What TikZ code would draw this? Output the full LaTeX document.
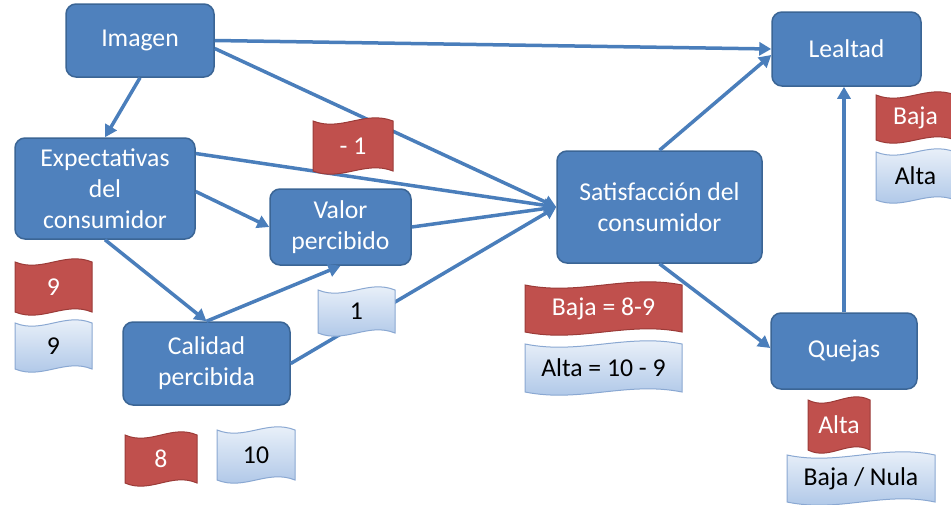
\documentclass[tikz,border=0pt]{standalone}
\usepackage{fontspec}
\setmainfont{Carlito}
\usetikzlibrary{arrows.meta}
\definecolor{boxblue}{HTML}{4F81BD}
\definecolor{boxedge}{HTML}{3B6595}
\definecolor{arrowblue}{HTML}{4A7EBB}
\definecolor{flagred}{HTML}{C0504D}
\definecolor{flagrededge}{HTML}{9B3B38}
\definecolor{flagbluetop}{HTML}{F0F5FB}
\definecolor{flagbluebot}{HTML}{A9C3E6}
\definecolor{flagblueedge}{HTML}{8AA8D2}
\tikzset{
  box/.style={draw=boxedge, line width=1.5pt, fill=boxblue, rounded corners=10pt,
    text=white, align=center, font=\fontsize{25.7}{31}\selectfont, inner sep=0pt},
  conn/.style={draw=arrowblue, line width=3.5pt, -{Triangle[length=12pt,width=13pt]}},
  flagtxt/.style={font=\fontsize{25.7}{31}\selectfont, inner sep=0pt},
  redflag/.style={draw=flagrededge, line width=1pt, fill=flagred},
  blueflag/.style={draw=flagblueedge, line width=1pt, top color=flagbluetop, bottom color=flagbluebot},
}
% name, cx, cy, w, h, style, text colour, text
\newcommand\wflag[8]{%
  \path[#6] ({#2-#4/2},{#3-#5/2})
    .. controls ({#2-0.15*#4},{#3-#5/2+11}) and ({#2+0.15*#4},{#3-#5/2-11}) .. ({#2+#4/2},{#3-#5/2})
    -- ({#2+#4/2},{#3+#5/2})
    .. controls ({#2+0.15*#4},{#3+#5/2-11}) and ({#2-0.15*#4},{#3+#5/2+11}) .. ({#2-#4/2},{#3+#5/2})
    -- cycle;
  \node[flagtxt, text=#7] (#1) at (#2,#3) {#8};
}
\begin{document}
\begin{tikzpicture}[x=1pt, y=-1pt]
\useasboundingbox (0,0) rectangle (951,504);
\clip (0,0) rectangle (951,504);
% boxes
\node[box, minimum width=148pt, minimum height=73pt] (img) at (140,40.5) {Imagen};
\node[box, minimum width=180pt, minimum height=101pt] (exp) at (105,188.5) {Expectativas\\del\\consumidor};
\node[box, minimum width=141pt, minimum height=76pt] (val) at (340.5,227) {Valor\\percibido};
\node[box, minimum width=167pt, minimum height=83pt] (cal) at (206.5,363.5) {Calidad\\percibida};
\node[box, minimum width=205pt, minimum height=112pt] (sat) at (659.5,207) {Satisfacción del\\consumidor};
\node[box, minimum width=149pt, minimum height=74pt] (lea) at (846.5,49) {Lealtad};
\node[box, minimum width=146pt, minimum height=76pt] (que) at (844,351) {Quejas};
% connectors
\draw[conn] (img.east) -- (lea.west);
\draw[conn] (img.south) -- (exp.north);
\draw[conn] ([yshift=-8pt]img.east) -- (sat.west);
\draw[conn] ([yshift=35pt]exp.east) -- (sat.west);
\draw[conn] ([yshift=-3pt]exp.east) -- (val.west);
\draw[conn] (exp.south) -- (cal.north);
\draw[conn] (cal.north) -- (val.south);
\draw[conn] (cal.east) -- (sat.west);
\draw[conn] (val.east) -- (sat.west);
\draw[conn] (sat.north) -- ([yshift=-6pt]lea.west);
\draw[conn] (sat.south) -- ([yshift=3pt]que.west);
\draw[conn] (que.north) -- (que.north |- lea.south);
% flags
\wflag{f1}{353}{146}{80}{50}{redflag}{white}{- 1}
\wflag{f2}{53.5}{287}{77}{50}{redflag}{white}{9}
\wflag{f3}{53.5}{346}{77}{46}{blueflag}{black}{9}
\wflag{f4}{356.5}{311.5}{77}{43}{blueflag}{black}{1}
\wflag{f5}{603.5}{308.5}{157}{47}{redflag}{white}{Baja = 8-9}
\wflag{f6}{603.5}{368}{157}{48}{blueflag}{black}{Alta = 10 - 9}
\wflag{f7}{915.5}{117.5}{79}{45}{redflag}{white}{Baja}
\wflag{f8}{915.5}{176}{79}{48}{blueflag}{black}{Alta}
\wflag{f9}{839}{425}{62}{50}{redflag}{white}{Alta}
\wflag{f10}{861}{478.5}{148}{47}{blueflag}{black}{Baja / Nula}
\wflag{f11}{161}{459}{72}{48}{redflag}{white}{8}
\wflag{f12}{256}{455}{78}{50}{blueflag}{black}{10}
\end{tikzpicture}
\end{document}
